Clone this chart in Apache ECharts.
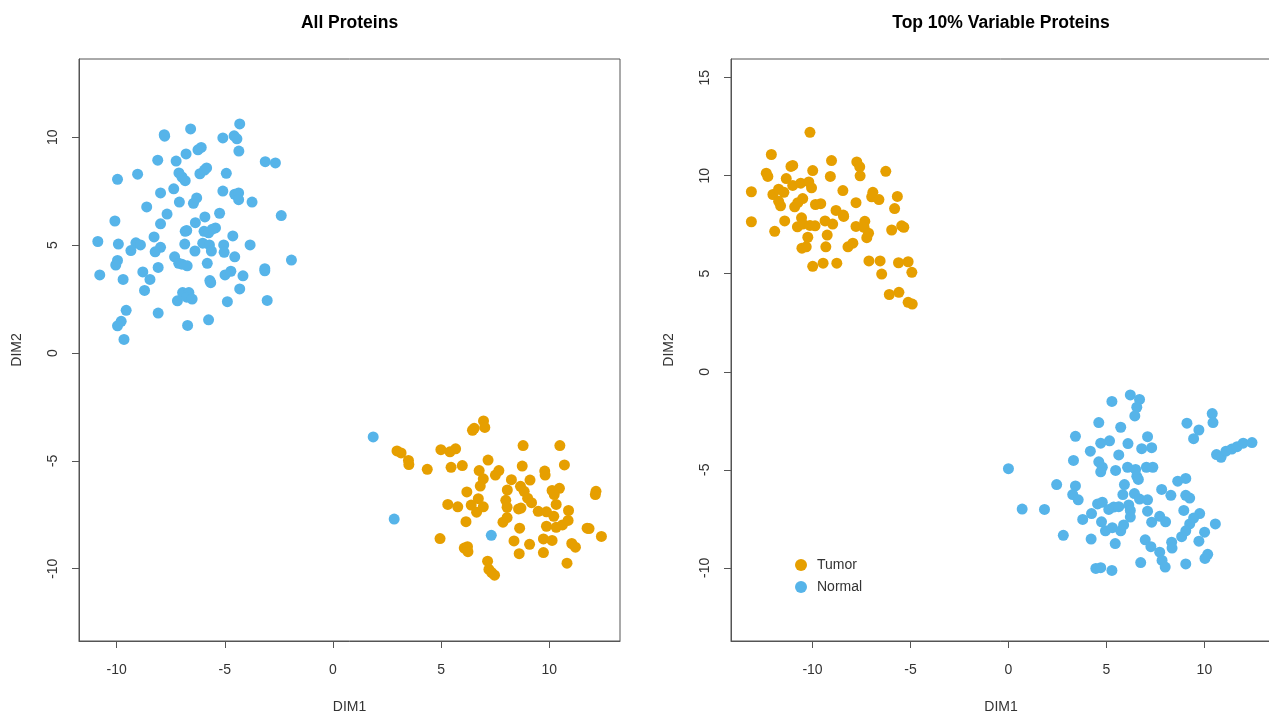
<!DOCTYPE html>
<html>
<head>
<meta charset="utf-8">
<script src="https://cdn.jsdelivr.net/npm/echarts@6/dist/echarts.min.js"></script>
<style>
html,body{margin:0;padding:0;background:#fff;}
#chart{width:1269px;height:713px;}
</style>
</head>
<body>
<div id="chart"></div>
<script>
// ---- Data ----
var panelTitles = ['All Proteins', 'Top 10% Variable Proteins'];
var seriesNames = ['Tumor', 'Normal'];
var tickValues = [-10, -5, 0, 5, 10];
var tickValuesRightY = [-10, -5, 0, 5, 10, 15];

// Left panel: All Proteins
var allNormal = [
[-4.31,10.62],[-6.58,10.39],[-7.80,10.12],[-7.78,10.05],[-5.09,9.97],[-4.57,10.07],[-4.44,9.93],[-4.35,9.36],
[-6.79,9.23],[-6.24,9.42],[-6.09,9.53],[-7.25,8.90],[-8.10,8.94],[-3.13,8.87],[-2.66,8.81],[-9.03,8.29],
[-9.96,8.05],[-7.12,8.35],[-6.98,8.16],[-6.83,7.99],[-6.15,8.31],[-5.94,8.48],[-5.84,8.58],[-4.93,8.33],
[-7.97,7.42],[-7.36,7.61],[-7.10,7.00],[-6.45,6.94],[-6.30,7.19],[-5.09,7.51],[-4.54,7.36],[-4.36,7.42],
[-4.36,7.11],[-3.74,7.00],[-2.39,6.37],[-8.61,6.77],[-7.67,6.44],[-7.97,5.99],[-10.08,6.12],[-5.24,6.48],
[-5.92,6.31],[-6.36,6.04],[-6.76,5.68],[-6.83,5.64],[-5.96,5.64],[-5.75,5.57],[-5.43,5.80],[-5.58,5.74],
[-4.63,5.43],[-8.27,5.38],[-10.87,5.17],[-9.92,5.05],[-9.11,5.11],[-8.90,5.01],[-9.34,4.75],[-7.97,4.90],
[-8.22,4.69],[-6.85,5.05],[-6.02,5.09],[-5.71,5.01],[-5.62,4.73],[-6.38,4.73],[-5.05,5.01],[-5.03,4.67],
[-3.83,5.01],[-9.96,4.29],[-10.04,4.08],[-7.32,4.46],[-7.13,4.16],[-6.98,4.12],[-6.74,4.04],[-5.81,4.16],
[-4.54,4.46],[-1.92,4.31],[-10.78,3.62],[-9.70,3.41],[-8.79,3.76],[-8.46,3.41],[-8.08,3.97],[-8.71,2.90],
[-5.69,3.36],[-5.65,3.26],[-4.99,3.62],[-4.72,3.79],[-4.16,3.58],[-3.15,3.91],[-3.15,3.81],[-4.31,2.97],
[-7.19,2.42],[-6.95,2.80],[-6.66,2.80],[-6.76,2.59],[-6.51,2.50],[-4.88,2.38],[-3.04,2.44],[-9.56,1.98],
[-8.08,1.85],[-9.79,1.47],[-9.96,1.26],[-9.66,0.63],[-6.72,1.28],[-5.75,1.54],
[1.86,-3.89],[2.83,-7.70],[7.32,-8.45]
];
var allTumor = [
[6.96,-3.15],[7.02,-3.45],[6.45,-3.58],[6.53,-3.49],[8.79,-4.29],[10.49,-4.29],[2.96,-4.54],[3.15,-4.63],
[4.99,-4.48],[5.41,-4.58],[5.67,-4.44],[3.49,-4.98],[3.51,-5.17],[4.36,-5.39],[5.46,-5.30],[5.98,-5.22],
[7.17,-4.96],[6.76,-5.45],[7.67,-5.45],[7.51,-5.66],[6.95,-5.83],[8.75,-5.24],[9.11,-5.89],[9.79,-5.47],
[9.81,-5.66],[10.70,-5.19],[8.25,-5.87],[6.81,-6.17],[6.19,-6.44],[8.06,-6.35],[8.67,-6.18],[8.84,-6.41],
[10.13,-6.37],[10.47,-6.27],[10.23,-6.56],[12.16,-6.41],[12.13,-6.56],[6.72,-6.75],[7.99,-6.83],[9.00,-6.73],
[9.18,-6.94],[5.31,-7.02],[5.77,-7.13],[6.39,-7.05],[6.64,-7.38],[6.95,-7.13],[8.05,-7.15],[8.58,-7.23],
[8.69,-7.19],[9.49,-7.34],[9.87,-7.36],[10.32,-7.02],[10.89,-7.30],[10.21,-7.57],[6.15,-7.82],[7.86,-7.84],
[8.05,-7.63],[8.63,-8.12],[9.87,-8.03],[10.32,-8.08],[10.61,-7.97],[10.87,-7.76],[11.75,-8.12],[11.84,-8.14],
[4.95,-8.60],[8.37,-8.71],[9.09,-8.87],[9.73,-8.62],[10.13,-8.69],[11.04,-8.83],[11.21,-9.00],[12.41,-8.50],
[6.07,-9.04],[6.22,-8.98],[6.24,-9.21],[8.61,-9.30],[9.73,-9.25],[7.15,-9.65],[10.82,-9.74],[7.21,-10.03],
[7.34,-10.18],[7.47,-10.30]
];

// Right panel: Top 10% Variable Proteins
var topTumor = [
[-10.13,12.21],[-12.10,11.08],[-12.36,10.13],[-12.28,9.96],[-11.10,10.47],[-11.01,10.52],[-9.03,10.77],[-7.74,10.70],
[-7.59,10.45],[-7.57,9.99],[-9.99,10.26],[-9.09,9.96],[-6.26,10.22],[-13.12,9.18],[-11.34,9.85],[-11.01,9.50],
[-10.60,9.62],[-10.19,9.68],[-10.05,9.38],[-12.02,9.04],[-11.73,9.31],[-11.46,9.15],[-11.63,8.46],[-11.73,8.69],
[-10.91,8.41],[-10.75,8.62],[-10.50,8.83],[-9.58,8.57],[-9.85,8.53],[-8.45,9.24],[-6.92,9.15],[-6.98,8.92],
[-6.61,8.78],[-5.67,8.94],[-7.78,8.62],[-5.81,8.32],[-13.12,7.65],[-11.42,7.69],[-11.93,7.16],[-10.77,7.39],
[-10.56,7.85],[-10.50,7.53],[-10.13,7.46],[-9.87,7.44],[-9.36,7.69],[-8.97,7.53],[-8.80,8.23],[-8.43,7.99],
[-8.41,7.92],[-7.78,7.41],[-7.33,7.67],[-7.37,7.37],[-7.14,7.07],[-7.23,6.84],[-5.96,7.23],[-5.45,7.44],
[-5.34,7.37],[-10.24,6.86],[-9.25,6.97],[-9.32,6.37],[-10.54,6.30],[-10.32,6.37],[-8.19,6.37],[-7.94,6.56],
[-9.99,5.38],[-9.46,5.54],[-8.76,5.54],[-7.12,5.65],[-6.55,5.65],[-6.47,4.98],[-5.61,5.56],[-5.12,5.61],
[-4.93,5.07],[-6.08,3.94],[-5.59,4.05],[-5.12,3.54],[-4.91,3.45]
];
var topNormal = [
[6.22,-1.18],[6.69,-1.41],[6.55,-1.81],[6.45,-2.25],[5.28,-1.51],[10.40,-2.13],[10.44,-2.59],[4.61,-2.59],
[5.73,-2.83],[9.11,-2.62],[9.72,-2.97],[9.45,-3.41],[3.42,-3.29],[5.16,-3.52],[4.71,-3.64],[6.10,-3.66],
[7.10,-3.31],[6.80,-3.92],[7.31,-3.87],[4.18,-4.05],[5.63,-4.24],[3.32,-4.52],[4.61,-4.59],[4.71,-5.10],
[4.79,-4.87],[5.47,-5.03],[6.08,-4.87],[6.49,-4.98],[6.55,-5.33],[6.63,-5.49],[7.04,-4.87],[7.37,-4.87],
[0.00,-4.94],[2.46,-5.75],[3.42,-5.82],[3.28,-6.26],[3.56,-6.53],[5.92,-5.75],[5.84,-6.26],[6.43,-6.21],
[6.69,-6.49],[7.10,-6.53],[7.82,-6.00],[8.29,-6.30],[8.64,-5.58],[9.05,-5.44],[9.05,-6.30],[9.25,-6.44],
[0.70,-7.00],[1.84,-7.02],[4.55,-6.74],[4.79,-6.65],[4.24,-7.23],[3.79,-7.53],[5.12,-7.02],[5.37,-6.90],
[5.63,-6.88],[6.14,-6.79],[6.22,-7.07],[6.22,-7.41],[7.10,-7.11],[7.31,-7.67],[7.72,-7.37],[8.02,-7.65],
[8.95,-7.07],[9.76,-7.23],[9.45,-7.46],[9.25,-7.76],[9.05,-8.11],[8.84,-8.41],[10.56,-7.76],[4.75,-7.65],
[4.95,-8.11],[5.30,-7.95],[5.73,-8.11],[5.88,-7.81],[2.80,-8.34],[4.22,-8.53],[5.45,-8.76],[6.98,-8.57],
[7.27,-8.92],[7.72,-9.20],[8.33,-8.69],[8.35,-8.99],[9.72,-8.64],[10.01,-8.18],[10.17,-9.31],[10.03,-9.52],
[6.75,-9.73],[7.84,-9.62],[8.00,-9.96],[9.05,-9.80],[4.46,-10.03],[4.71,-9.99],[5.28,-10.13],
[10.62,-4.22],[10.85,-4.36],[11.10,-4.05],[11.40,-3.94],[11.67,-3.82],[11.98,-3.64],[12.43,-3.61]
];

// ---- Styling ----
var TUMOR = '#E69F00', NORMAL = '#56B4E9';
var FONT = '"Liberation Sans", Arial, sans-serif';
var AX = '#555555', TXT = '#333333';

function xAxisDef(gi, min, max, ticks) {
  return {
    type: 'value', gridIndex: gi, min: min, max: max,
    name: 'DIM1', nameLocation: 'middle', nameGap: 59,
    nameTextStyle: {fontFamily: FONT, fontSize: 14, color: TXT},
    axisLine: {show: true, onZero: false, lineStyle: {color: AX, width: 1}},
    axisTick: {show: true, length: 7, customValues: ticks, lineStyle: {color: AX}},
    axisLabel: {customValues: ticks, margin: 22, fontFamily: FONT, fontSize: 14, color: TXT},
    splitLine: {show: false}
  };
}
function yAxisDef(gi, min, max, ticks) {
  return {
    type: 'value', gridIndex: gi, min: min, max: max,
    name: 'DIM2', nameLocation: 'middle', nameGap: 55, nameRotate: 90,
    nameTextStyle: {fontFamily: FONT, fontSize: 14, color: TXT},
    axisLine: {show: true, onZero: false, lineStyle: {color: AX, width: 1}},
    axisTick: {show: true, length: 7, customValues: ticks, lineStyle: {color: AX}},
    axisLabel: {customValues: ticks, rotate: 90, margin: 19, fontFamily: FONT, fontSize: 14, color: TXT},
    splitLine: {show: false}
  };
}
function scatter(name, data, gi, color) {
  return {
    name: name, type: 'scatter', xAxisIndex: gi, yAxisIndex: gi,
    data: data, symbol: 'circle', symbolSize: 11,
    itemStyle: {color: color, opacity: 1},
    emphasis: {disabled: true}, animation: false
  };
}

var chart = echarts.init(document.getElementById('chart'), null, {renderer: 'canvas'});
chart.setOption({
  backgroundColor: '#ffffff',
  animation: false,
  graphic: [
    {type: 'text', x: 349.5, y: 23, silent: true,
     style: {text: panelTitles[0], textAlign: 'center', textVerticalAlign: 'middle',
             font: 'bold 17.5px ' + FONT, fill: '#000'}},
    {type: 'text', x: 1001, y: 23, silent: true,
     style: {text: panelTitles[1], textAlign: 'center', textVerticalAlign: 'middle',
             font: 'bold 17.5px ' + FONT, fill: '#000'}}
  ],
  grid: [
    {left: 79, top: 59, width: 541, height: 582, show: true, borderColor: AX, borderWidth: 1,
     backgroundColor: 'transparent', containLabel: false, outerBoundsMode: 'none'},
    {left: 731, top: 59, width: 540, height: 582, show: true, borderColor: AX, borderWidth: 1,
     backgroundColor: 'transparent', containLabel: false, outerBoundsMode: 'none'}
  ],
  xAxis: [xAxisDef(0, -11.74, 13.27, tickValues), xAxisDef(1, -14.16, 13.40, tickValues)],
  yAxis: [yAxisDef(0, -13.35, 13.63, tickValues), yAxisDef(1, -13.73, 15.95, tickValuesRightY)],
  legend: {
    data: seriesNames, orient: 'vertical', left: 790, top: 553, itemGap: 8,
    icon: 'circle', itemWidth: 12, itemHeight: 12,
    textStyle: {fontFamily: FONT, fontSize: 14, color: TXT, padding: [0, 0, 0, 5]}, selectedMode: false
  },
  series: [
    scatter(seriesNames[0], allTumor, 0, TUMOR),
    scatter(seriesNames[1], allNormal, 0, NORMAL),
    scatter(seriesNames[0], topTumor, 1, TUMOR),
    scatter(seriesNames[1], topNormal, 1, NORMAL)
  ]
});
</script>
</body>
</html>
